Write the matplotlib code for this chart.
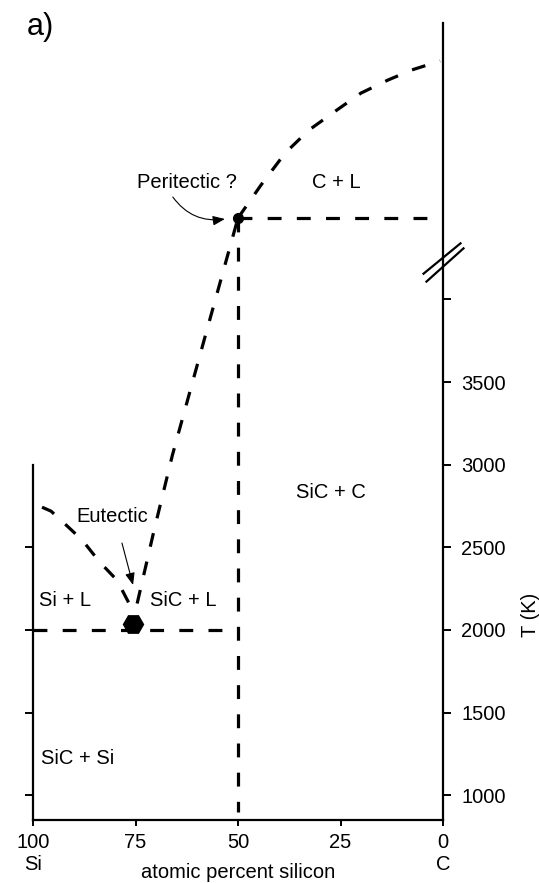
import numpy as np
import matplotlib
matplotlib.use("Agg")
import matplotlib.pyplot as plt
from matplotlib.path import Path

plt.rcParams.update({
    "font.family": ["Liberation Sans", "DejaVu Sans"],
    "font.size": 14.5,
    "lines.scale_dashes": False,
})

# ── Données ──────────────────────────────────────────────────
# x : pourcentage atomique de silicium, T en K
si_liq_x = [97.8, 95.6, 92.7, 88.0, 83.7, 79.5, 76.6]
si_liq_T = [2743, 2719, 2653, 2544, 2410, 2301, 2162]

sic_liq_x = [74.6, 70.5, 66.0, 58.2, 50.0]
sic_liq_T = [2160, 2600, 3058, 3760, 4493]

c_liq_x = [50.0, 44.4, 38.5, 32.7, 25.9, 20.0, 13.4, 7.6, 0.7]
c_liq_T = [4493, 4692, 4886, 5025, 5146, 5249, 5328, 5389, 5443]

perit_x, perit_T = 50.0, 4493
perit_line_x = [50.0, 2.9]
sic_line_x = [50.0, 50.0]
sic_line_T = [4493, 897]
eut_line_x = [100.0, 53.7]
eut_line_T = 2000
eut_x, eut_T = 75.6, 2035

BREAK_T = 4235
XMIN, XMAX = 100, 0
YMIN, YMAX = 850, 5673
LEFT_TOP = 3000

xticks = [100, 75, 50, 25, 0]
xtick_labels = ["100\nSi", "75", "50", "25", "0\nC"]
yticks_left = [1000, 1500, 2000, 2500]
yticks_right = [1000, 1500, 2000, 2500, 3000, 3500, 4000]
ytick_labels = ["1000", "1500", "2000", "2500", "3000", "3500", ""]

regions = [
    ("Peritectic ?", 62.4, 4705),
    ("C + L", 26.1, 4705),
    ("SiC + C", 27.3, 2829),
    ("Eutectic", 80.7, 2684),
    ("Si + L", 92.2, 2181),
    ("SiC + L", 63.3, 2181),
    ("SiC + Si", 89.1, 1225),
]

# ── Figure ───────────────────────────────────────────────────
fig = plt.figure(figsize=(5.39, 8.83), dpi=100)
ax = fig.add_axes([33 / 539, 63 / 883, 410 / 539, 797 / 883])
ax.patch.set_alpha(0)

DASH = (0, (10, 11))
LW = 2.3
kw = dict(color="black", lw=LW, ls=DASH, dash_capstyle="butt")

ax.plot(si_liq_x, si_liq_T, **kw)
ax.plot(sic_liq_x, sic_liq_T, **kw)
ax.plot(c_liq_x, c_liq_T, **kw)
ax.plot(perit_line_x, [perit_T, perit_T], **kw)
ax.plot(sic_line_x, sic_line_T, **kw)
ax.plot(eut_line_x, [eut_line_T, eut_line_T], **kw)

ax.plot([eut_x], [eut_T], marker="H", ms=14.4, color="black", zorder=5)
ax.plot([perit_x], [perit_T], marker="o", ms=7, color="black", zorder=5)

ax.set_xlim(XMIN, XMAX)
ax.set_ylim(YMIN, YMAX)

ax.spines["top"].set_visible(False)
for s in ["left", "right", "bottom"]:
    ax.spines[s].set_linewidth(1.6)
ax.spines["left"].set_bounds(YMIN, LEFT_TOP)

ax.set_xticks(xticks)
ax.set_xticklabels(xtick_labels, linespacing=1.25)
ax.tick_params(axis="x", direction="out", length=4, width=1.4, pad=5)
ax.set_yticks(yticks_left)
ax.tick_params(axis="y", direction="out", length=6, width=1.4,
               labelleft=False)

ax2 = ax.twinx()
ax2.set_ylim(YMIN, YMAX)
ax2.set_yticks(yticks_right)
ax2.set_yticklabels(ytick_labels)
ax2.tick_params(axis="y", direction="out", length=6, width=1.4, pad=7)
for s in ["top", "left", "bottom", "right"]:
    ax2.spines[s].set_visible(False)

# marque de rupture d'axe
brk = Path([(-18, -21), (21, 14), (-21, -13), (18, 19)],
           [Path.MOVETO, Path.LINETO, Path.MOVETO, Path.LINETO])
ax.plot([XMAX], [BREAK_T], marker=brk, ms=30, mec="black", mew=1.6,
        mfc="none", ls="none", clip_on=False, zorder=6)

for txt, x, y in regions:
    ax.text(x, y, txt, ha="center", va="center", fontsize=14.5)

ax.annotate("", xy=(53.2, 4487), xytext=(65.9, 4620),
            arrowprops=dict(arrowstyle="-|>,head_length=0.5,head_width=0.2",
                            color="black", lw=0.8,
                            connectionstyle="arc3,rad=0.3",
                            shrinkA=0, shrinkB=0))
ax.annotate("", xy=(75.6, 2272), xytext=(78.3, 2526),
            arrowprops=dict(arrowstyle="-|>,head_length=0.5,head_width=0.2",
                            color="black", lw=0.8,
                            shrinkA=0, shrinkB=0))

fig.text(238 / 539, 1 - 872 / 883, "atomic percent silicon",
         ha="center", va="center", fontsize=14.5)
fig.text(531 / 539, 1 - 615 / 883, "T (K)", rotation=90,
         ha="center", va="center", fontsize=14.5)
fig.text(27 / 539, 1 - 27 / 883, "a)", ha="left", va="center", fontsize=22)

fig.savefig("out.png", dpi=100)
